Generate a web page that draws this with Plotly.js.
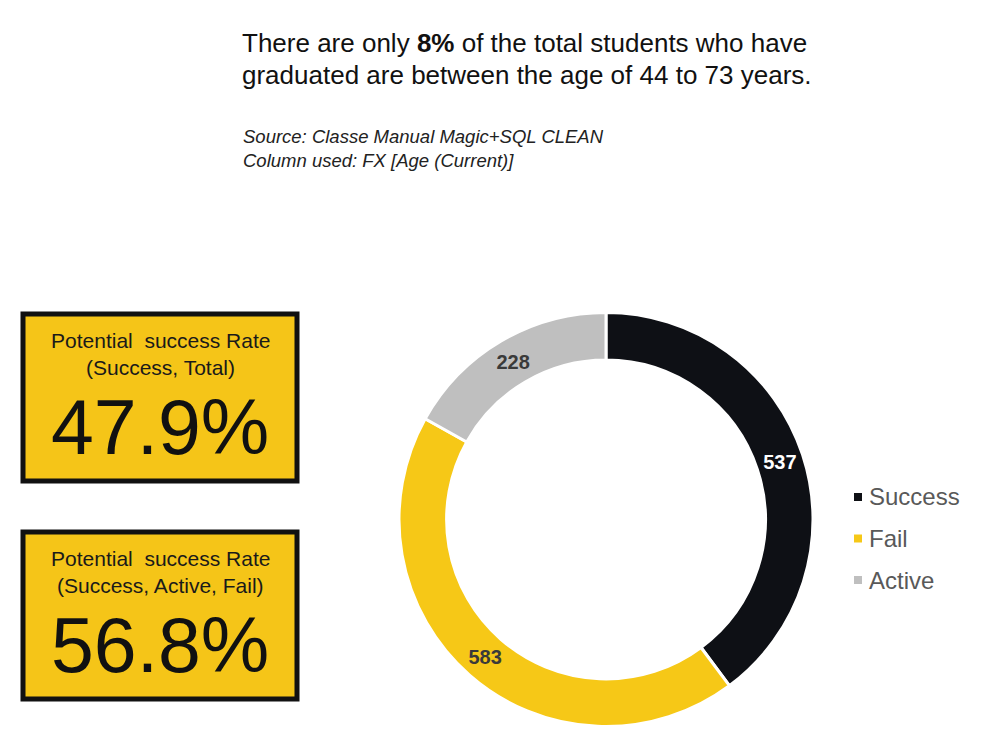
<!DOCTYPE html>
<html>
<head>
<meta charset="utf-8">
<script src="https://cdn.plot.ly/plotly-3.0.1.min.js"></script>
<style>html,body{margin:0;padding:0;background:#fff;}#chart{width:1000px;height:750px;}</style>
</head>
<body>
<div id="chart"></div>
<script>
const categories = ["Success", "Fail", "Active"];
const counts = [537, 583, 228];
const sliceColors = ["#0E1015", "#F6C817", "#BFBFBF"];
const labelColors = ["#FFFFFF", "#3A3A3A", "#3A3A3A"];
const headline = ["There are only <b>8%</b> of the total students who have", "graduated are between the age of 44 to 73 years."];
const sourceLines = ["Source: Classe Manual Magic+SQL CLEAN", "Column used: FX [Age (Current)]"];
const kpiTitles = [["Potential  success Rate", "(Success, Total)"], ["Potential  success Rate", "(Success, Active, Fail)"]];
const kpiValues = ["47.9%", "56.8%"];

const W = 1000, H = 750;
const px = x => x / W;
const py = y => 1 - y / H;
const FONT = "Liberation Sans, Arial, sans-serif";

const annotations = [];
const shapes = [];

headline.forEach((t, i) => {
  annotations.push({xref:"paper", yref:"paper", x:px(240), y:py(43 + i*32), xanchor:"left", yanchor:"middle",
    text:t, showarrow:false, font:{family:FONT, size:26, color:"#111"}});
});
sourceLines.forEach((t, i) => {
  annotations.push({xref:"paper", yref:"paper", x:px(241), y:py(136 + i*24), xanchor:"left", yanchor:"middle",
    text:"<i>" + t + "</i>", showarrow:false, font:{family:FONT, size:18.5, color:"#222"}});
});

const boxTops = [314, 532];
const boxH = 167;
kpiValues.forEach((v, i) => {
  const top = boxTops[i];
  shapes.push({type:"rect", xref:"paper", yref:"paper", x0:px(23), x1:px(297), y0:py(top + boxH), y1:py(top),
    fillcolor:"#F5C518", line:{color:"#111", width:5}, layer:"below"});
  kpiTitles[i].forEach((t, j) => {
    annotations.push({xref:"paper", yref:"paper", x:px(160), y:py(top + 26 + j*27), xanchor:"center", yanchor:"middle",
      text:t, showarrow:false, font:{family:FONT, size:21, color:"#1a1a1a"}});
  });
  annotations.push({xref:"paper", yref:"paper", x:px(160), y:py(top + 113), xanchor:"center", yanchor:"middle",
    text:v, showarrow:false, font:{family:FONT, size:77, color:"#111"}});
});

// legend drawn from categories / sliceColors
categories.forEach((c, i) => {
  const cy = 497 + i * 41.5;
  shapes.push({type:"rect", xref:"paper", yref:"paper", x0:px(854), x1:px(862), y0:py(cy + 4), y1:py(cy - 4),
    fillcolor:sliceColors[i], line:{width:0}});
  annotations.push({xref:"paper", yref:"paper", x:px(867), y:py(cy), xanchor:"left", yanchor:"middle",
    text:c, showarrow:false, font:{family:FONT, size:24, color:"#595959"}});
});

const trace = {
  type:"pie",
  labels:categories,
  values:counts,
  hole:0.77,
  sort:false,
  direction:"clockwise",
  rotation:0,
  marker:{colors:sliceColors, line:{color:"#FFFFFF", width:3}},
  textinfo:"value",
  textposition:"inside",
  insidetextorientation:"horizontal",
  textfont:{family:FONT, size:20, color:labelColors, weight:"bold"},
  domain:{x:[px(399), px(813)], y:[py(728), py(311)]},
  showlegend:false
};

const layout = {
  width:W, height:H,
  margin:{l:0, r:0, t:0, b:0},
  paper_bgcolor:"#FFFFFF",
  plot_bgcolor:"#FFFFFF",
  showlegend:false,
  annotations:annotations,
  shapes:shapes
};

Plotly.newPlot("chart", [trace], layout, {displayModeBar:false, staticPlot:true});
</script>
</body>
</html>
